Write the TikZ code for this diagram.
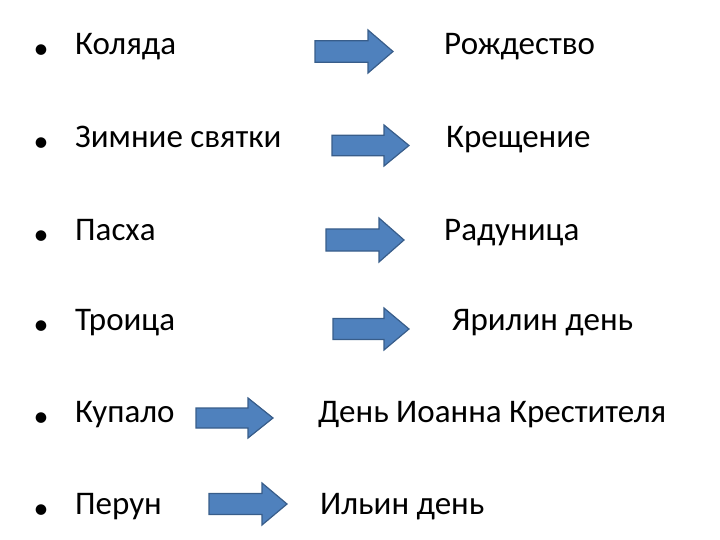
\documentclass[tikz,border=0pt]{standalone}
\usepackage{fontspec}
\setmainfont{Carlito}
\begin{document}
\begin{tikzpicture}[x=1pt,y=-1pt,
  txt/.style={anchor=mid west,inner sep=0pt,font=\fontsize{33}{40}\selectfont},
  bul/.style={inner sep=0pt,font=\fontsize{30}{36}\selectfont},
  arr/.style={fill={rgb,255:red,79;green,129;blue,189},draw={rgb,255:red,56;green,93;blue,138},line width=1.2pt}]
\useasboundingbox (0,0) rectangle (720,540);
\newcommand\arrw[4]{% x1 x2 ytop ybot
  \pgfmathsetmacro\ym{(#3+#4)/2}\pgfmathsetmacro\h{(#4-#3)/4}\pgfmathsetmacro\xh{#2-25}
  \draw[arr] (#1,\ym-\h) -- (\xh,\ym-\h) -- (\xh,#3) -- (#2,\ym) -- (\xh,#4) -- (\xh,\ym+\h) -- (#1,\ym+\h) -- cycle;}
\foreach \y/\t [count=\i] in {52/Коляда,145/Зимние святки,238/Пасха,328/Троица,420/Купало,512/Перун}{
  \node[bul] (b\i) at (41,\y) {•};
  \node[txt] (l\i) at (75,\y) {\t};}
\node[txt] (r1) at (444,52) {Рождество};
\node[txt] (r2) at (446,145) {Крещение};
\node[txt] (r3) at (444,238) {Радуница};
\node[txt] (r4) at (452,328) {Ярилин день};
\node[txt] (r5) at (318,420) {День Иоанна Крестителя};
\node[txt] (r6) at (320,512) {Ильин день};
\arrw{315}{393}{30}{73}
\arrw{332}{409}{125}{166}
\arrw{326}{404}{218}{262}
\arrw{333}{409}{308}{350}
\arrw{196}{273}{398}{438}
\arrw{209}{287}{483}{525}
\end{tikzpicture}
\end{document}
